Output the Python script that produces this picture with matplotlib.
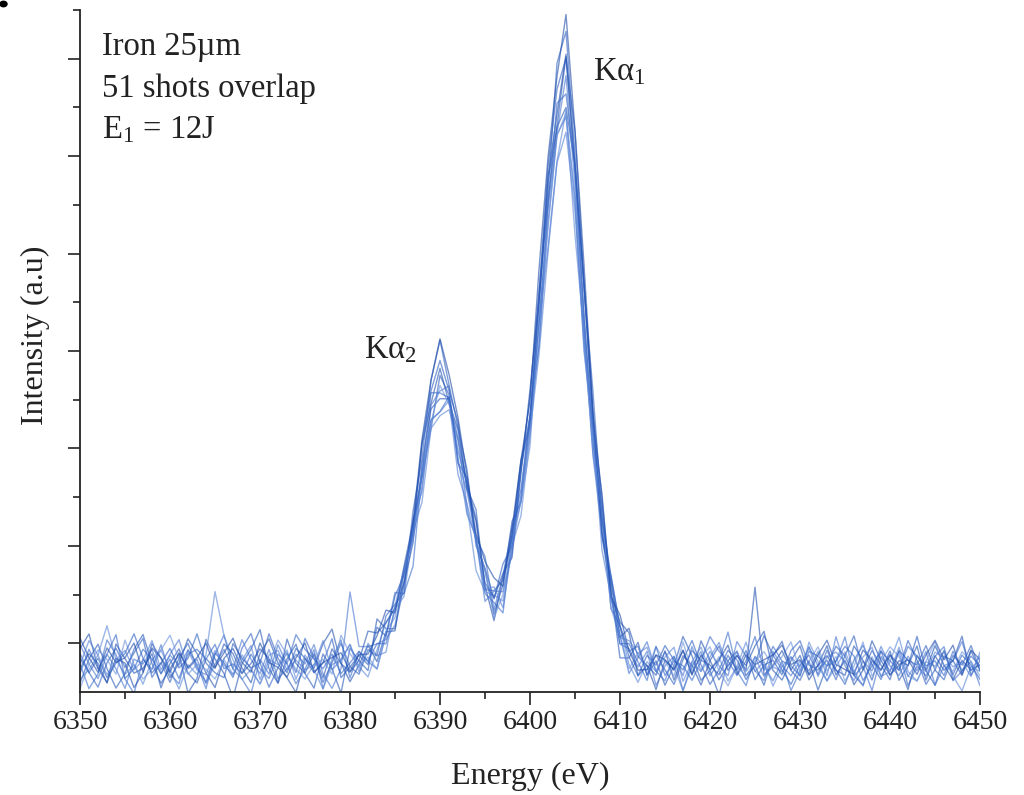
import numpy as np
import matplotlib
matplotlib.use("Agg")
import matplotlib.pyplot as plt
from matplotlib.patches import Circle
from matplotlib.ticker import FixedLocator

plt.rcParams['font.family'] = ['Liberation Serif', 'DejaVu Serif']
plt.rcParams['mathtext.default'] = 'regular'

# Energy axis, 1 eV per sample
energy = np.arange(6350, 6451)

# Average line profile (a.u.), 6350 ... 6450 eV
mean_profile = (
    [0.14] * 30
    + [0.15, 0.17, 0.22, 0.30, 0.45, 0.70, 1.00, 1.50, 2.15, 2.80,
       3.05, 2.90, 2.40, 1.90, 1.45, 1.00, 0.80, 0.95, 1.40, 2.00,
       2.65, 3.75, 4.85, 5.75, 6.15, 5.15, 3.75, 2.55, 1.60, 0.85,
       0.45, 0.25, 0.16]
    + [0.12] * 38
)

# Shot-to-shot amplitude factors
shot_scale = [1.00, 0.96, 1.04, 0.93, 1.07, 0.98, 1.02, 0.95, 1.05, 0.99, 1.09, 0.91]

# Per-shot deviations from the average profile (hundredths of a.u.)
shot_dev = [
    [-5, 20, 35, 10, -10, 5, 30, 45, 15, -5,
     10, 25, -15, 0, 40, 20, 5, -20, 15, 30,
     50, 10, -5, 20, 35, 5, -10, 25, 10, -15,
     30, 15, 0, 45, 20, -5, 10, 25, 5, -10,
     20, 15, -5, 30, 10, 25, 0, 15, 35, -5,
     10, 20, 40, 5, -15, 25, 15, 0, 30, 20,
     -10, 10, 35, 5, 20, -5, 15, 45, 25, 0,
     10, -15, 20, 30, 5, 15, -5, 25, 40, 10,
     0, 20, -10, 15, 35, 25, 5, -5, 20, 10,
     30, 0, 15, 45, 10, -5, 25, 20, 5, 30,
     10],
    [15, -10, 5, 40, 25, 0, -15, 20, 10, 35,
     5, -5, 30, 15, -10, 25, 45, 10, 0, -15,
     20, 5, 35, 15, -5, 10, 30, -10, 20, 40,
     0, 25, 10, -5, 15, 35, 5, -15, 20, 10,
     -5, 25, 10, 0, 20, 5, 15, -10, 25, 10,
     30, -5, 15, 20, 0, 10, -10, 25, 5, 35,
     15, -5, 20, 40, 10, 0, 25, -10, 15, 30,
     5, 20, 50, 10, -5, 25, 15, 0, 20, -10,
     10, 35, 15, 0, 20, 45, 5, 15, -10, 25,
     10, 30, -5, 15, 5, 25, 35, 0, 10, 20,
     -5],
    [30, 45, 10, -5, 20, 15, -10, 5, 35, 20,
     0, 15, 40, 25, 5, -10, 20, 30, 10, -5,
     25, 40, 15, 0, -15, 20, 10, 35, 50, 15,
     -5, 10, 25, 0, 15, -10, 20, 10, 30, 5,
     15, -5, 20, 10, 25, 5, -10, 20, 15, 30,
     0, 10, 25, -5, 15, 5, 30, 20, -5, 10,
     25, 35, 0, 15, -10, 20, 10, 30, 5, 40,
     20, 0, 15, 25, 10, 95, 5, 15, 30, 10,
     25, 0, 15, 35, 5, 20, -5, 10, 40, 20,
     5, 15, -10, 25, 10, 35, 15, 0, 20, 10,
     15],
    [0, 10, 25, 55, 20, 5, 15, -5, 20, 30,
     10, -10, 15, 5, 25, 90, 45, 20, 0, 10,
     -5, 20, 15, 30, 0, 25, 10, -10, 15, 20,
     35, 10, -5, 15, 30, 20, 5, 25, -5, 10,
     0, 20, 35, 15, -10, 10, 25, 5, 20, -5,
     15, 30, 5, 10, 25, -10, 20, 5, 15, 40,
     25, 5, -5, 20, 10, 30, 15, -10, 20, 35,
     10, 25, 0, 15, 40, 10, 20, -5, 15, 25,
     5, 40, 20, 0, 15, 30, 10, -5, 25, 5,
     20, 45, 10, 0, 20, 15, 30, 5, -10, 15,
     10],
    [20, 5, -10, 15, 30, 10, 25, 40, 0, 15,
     -5, 20, 35, 10, -5, 25, 15, 0, 30, 45,
     15, -10, 10, 25, 5, 40, 20, -5, 15, 35,
     10, 0, 20, 5, 30, 15, -5, 25, 10, 20,
     35, 5, 15, 25, -5, 20, 10, 30, 0, 15,
     20, 10, -5, 30, 20, 0, 15, 35, 10, -5,
     20, 15, 30, 5, 25, 10, -5, 20, 40, 15,
     -5, 10, 30, 20, 0, 15, 45, 25, 10, -5,
     15, 25, 5, 30, 10, -5, 20, 35, 15, 0,
     25, 10, 40, 20, -5, 10, 30, 5, 25, 15,
     0],
    [35, 15, 0, 25, 10, -10, 20, 15, 30, 5,
     25, 40, 10, 20, -5, 15, 30, 10, 40, 20,
     5, 30, 0, 10, 25, 15, 35, 5, -10, 10,
     88, 30, 25, 20, 10, 0, 15, 30, -5, 20,
     10, 30, 0, 20, 15, -5, 25, 10, 5, 35,
     15, -10, 20, 10, 30, 15, 5, -5, 20, 15,
     5, 20, 10, 30, -5, 15, 25, 5, 35, 10,
     30, 15, 5, 40, 25, 10, 0, 30, 15, 5,
     20, 10, 30, 5, 45, 15, 0, 20, 10, 35,
     15, 5, 25, 10, 30, -5, 15, 20, 40, 10,
     25],
    [10, 25, 15, -5, 35, 20, 5, 10, 25, -10,
     15, 30, 5, -5, 20, 10, 35, 25, 5, 15,
     30, 20, -5, 40, 15, 5, 25, 0, 30, 15,
     5, 15, 40, 30, 25, 15, 10, 0, 15, 5,
     -10, 5, 15, 20, 30, 10, 15, 25, -5, 20,
     40, 20, 10, -5, 25, 10, 35, 15, 0, 25,
     10, 40, 20, 15, 5, 30, 0, 25, 15, -5,
     20, 35, 10, 25, 15, 35, 50, 10, 0, 20,
     35, 5, 15, 25, 10, 5, 35, 20, 0, 30,
     5, 20, 15, 35, 0, 25, 10, 20, 45, 5,
     20],
    [-10, 15, 30, 20, 5, 40, 15, 0, 10, 30,
     45, 20, 5, 15, 10, 0, 20, 5, 25, 10,
     -5, 15, 40, 25, 10, 0, 15, 20, 5, 45,
     25, 10, 15, -5, 20, 10, 30, 15, 20, 10,
     25, 20, 40, 5, 20, 30, 0, 10, 25, 5,
     0, 30, 15, 25, 10, 20, 0, 10, 35, 5,
     15, 0, 25, 10, 35, 20, 5, 40, 10, 25,
     35, 10, -5, 15, 5, 20, 30, 15, 25, 40,
     10, 20, 35, 10, 25, 0, 15, 40, 5, 20,
     35, 25, 5, 0, 20, 40, 15, 10, 30, 20,
     5],
    [25, 5, 20, 0, 15, 25, 45, 20, 5, 15,
     30, 10, 20, 45, 15, 5, 0, 35, 20, 10,
     15, 45, 20, 5, 30, 20, 5, 15, 40, 0,
     10, 20, 5, 35, 10, 25, 15, 5, 30, 15,
     20, 5, 25, 10, 35, 0, 20, 15, 10, 25,
     5, 15, 30, 15, 5, 35, 25, 15, 10, 30,
     20, 10, 0, 25, 15, 35, 20, 10, 30, 20,
     15, 5, 25, 10, 30, 0, 15, 20, 5, 30,
     40, 15, 10, 20, 0, 25, 45, 10, 30, 15,
     0, 30, 20, 15, 35, 10, 0, 25, 15, 35,
     10],
    [5, 30, 10, 25, 45, 0, 10, 30, 20, 5,
     20, 0, 25, 30, 20, 35, 10, 15, 5, 25,
     10, 0, 25, 15, 45, 30, 20, 10, 25, 5,
     15, 25, 10, 20, 5, 15, 25, 20, 10, 30,
     5, 15, 10, 25, 15, 40, 5, 25, 30, 10,
     20, 5, 20, 35, 5, 30, 10, 20, 45, 15,
     5, 25, 15, 0, 35, 5, 20, 15, 0, 20,
     45, 30, 20, 5, 20, 45, 10, 35, 20, 15,
     5, 30, 25, 15, 20, 35, 25, 0, 15, 30,
     20, 10, 35, 25, 15, 20, 5, 30, 10, 25,
     15],
    [40, 20, 5, 30, 15, 20, 35, 5, 30, 20,
     5, 25, 10, 20, 35, 10, 25, 40, 15, 5,
     35, 15, 10, 0, 20, 35, 5, 15, 20, 25,
     5, 20, 15, 25, 35, 5, 20, 10, 25, 15,
     30, 10, 20, 15, 5, 25, 30, 5, 15, 20,
     10, 25, 20, 5, 25, 15, 30, 10, 25, 5,
     30, 15, 5, 10, 25, 20, 10, 30, 5, 25,
     10, 20, 35, 5, 25, 15, 20, 25, 35, 15,
     20, 5, 25, 40, 15, 10, 5, 30, 20, 10,
     25, 15, 20, 5, 25, 40, 20, 35, 5, 30,
     20],
    [15, 40, 25, 5, 20, 30, 10, 20, 40, 10,
     25, 15, 30, 10, 5, 30, 15, 5, 20, 35,
     0, 25, 30, 10, 20, 10, 15, 40, 10, 20,
     35, 5, 30, 10, 0, 25, 35, 20, 15, 25,
     10, 35, 5, 20, 25, 15, 35, 0, 20, 15,
     25, 5, 10, 20, 15, 25, 20, 35, 0, 20,
     15, 30, 25, 35, 10, 25, 35, 0, 20, 10,
     25, 40, 15, 30, 10, 25, 5, 15, 10, 25,
     15, 35, 5, 25, 30, 20, 10, 25, 35, 5,
     10, 35, 5, 20, 10, 30, 25, 15, 20, 5,
     30],
]

shot_colors = ['#2456b8', '#3a6ccc', '#1f4fae', '#5a86d6', '#2c5ec0', '#4674d0',
               '#2252b4', '#6a92dc', '#2a5cbe', '#3366c8', '#1d4aa8', '#527ed4']

W, H = 1024, 795
fig = plt.figure(figsize=(W / 100, H / 100), dpi=100)
ax = fig.add_axes([80 / W, 1 - 692 / H, 900 / W, 682 / H])

profile = np.array(mean_profile)
for scale, dev, col in zip(shot_scale, shot_dev, shot_colors):
    shot = scale * profile + np.array(dev) / 100.0
    ax.plot(energy, shot, color=col, lw=1.0, alpha=0.6)

ax.set_xlim(6350, 6450)
ax.set_ylim(0, 7.0)

ax.set_xticks(np.arange(6350, 6451, 10))
ax.xaxis.set_minor_locator(FixedLocator(np.arange(6355, 6450, 10)))
ax.yaxis.set_major_locator(FixedLocator(np.arange(0.5, 7, 1.0)))
ax.yaxis.set_minor_locator(FixedLocator(np.arange(1.0, 7.01, 1.0)))
ax.set_yticklabels([])

for side in ['top', 'right']:
    ax.spines[side].set_visible(False)
for side in ['left', 'bottom']:
    ax.spines[side].set_linewidth(1.3)
    ax.spines[side].set_color('#222222')

ax.tick_params(which='major', length=9, width=1.2, direction='out',
               labelsize=20, pad=4, colors='#222222')
ax.tick_params(which='minor', length=5, width=1.2, direction='out', colors='#222222')

ax.set_xlabel('Energy (eV)', fontsize=23, color='#222222')
ax.xaxis.set_label_coords(0.5, -0.103)
ax.set_ylabel('Intensity (a.u)', fontsize=23, color='#222222')
ax.yaxis.set_label_coords(-0.033, 0.523)

def px(x, y):
    return x / W, 1 - y / H

fig.text(*px(102, 55), 'Iron 25µm', fontsize=23.5, va='baseline', color='#222222')
fig.text(*px(102, 97), '51 shots overlap', fontsize=23.5, va='baseline', color='#222222')
fig.text(*px(102, 138), 'E$_1$ = 12J', fontsize=23.5, va='baseline', color='#222222')
fig.text(*px(593, 80), 'Kα$_1$', fontsize=23.5, va='baseline', color='#222222')
fig.text(*px(364, 358), 'Kα$_2$', fontsize=23.5, va='baseline', color='#222222')

fig.add_artist(Circle((3.5 / W, 1 - 4 / H), 3.5 / W, transform=fig.transFigure,
                      color='black'))

fig.savefig('out.png', dpi=100)
